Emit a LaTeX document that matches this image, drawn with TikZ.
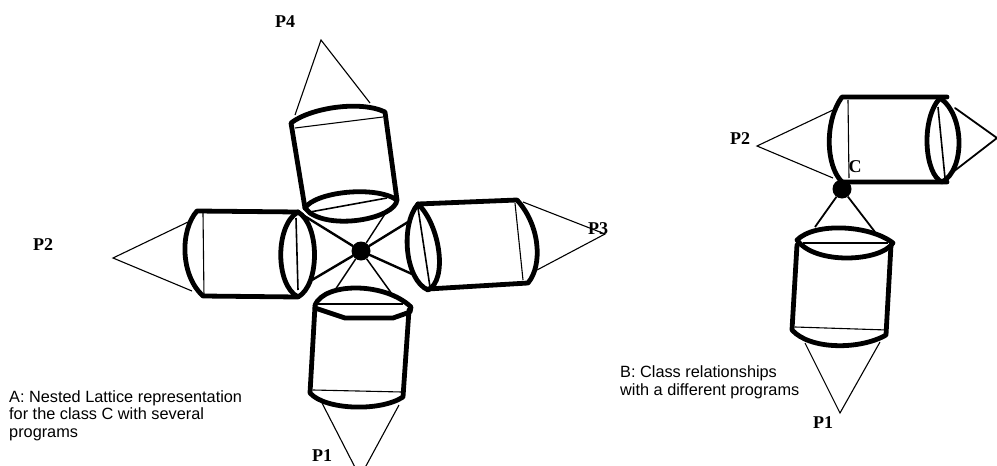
\documentclass[tikz,border=0pt]{standalone}
\usepackage{fontspec}
\setmainfont{Liberation Serif}
\newfontfamily\capfont{Liberation Sans}
\tikzset{
  thk/.style={line width=4.8pt,line cap=round,line join=round},
  med/.style={line width=2.4pt,line cap=round},
  thn/.style={line width=1.1pt},
  plabel/.style={font=\bfseries\fontsize{18}{20}\selectfont,inner sep=0pt},
  captext/.style={font=\capfont\fontsize{16.3}{17.5}\selectfont,align=left,anchor=north west,inner sep=0pt},
  captextb/.style={captext,font=\capfont\fontsize{16.3}{18.5}\selectfont},
  hub/.style={circle,fill=black,minimum size=19pt,inner sep=0pt}
}
\begin{document}
\begin{tikzpicture}[x=1pt,y=-1pt]
\useasboundingbox (0,0) rectangle (997,466);
\clip (0,0) rectangle (997,466);
% hubs
\node[hub] (ca) at (361,251) {};
\node[hub] (cb) at (842,189) {};
% coordinates: left figure
\coordinate (a4) at (321,40);
\coordinate (a4l) at (295,115);
\coordinate (a4r) at (370,103);
\coordinate (a2) at (113,258);
\coordinate (a2t) at (188,222);
\coordinate (a2b) at (192,291);
\coordinate (a3) at (605,234);
\coordinate (a3t) at (523,202);
\coordinate (a3b) at (537,270);
\coordinate (a1) at (360,477);
\coordinate (a1l) at (322,403);
\coordinate (a1r) at (399,405);
\coordinate (e4) at (385,214);
\coordinate (e2t) at (298,212);
\coordinate (e2b) at (312,280);
\coordinate (e3t) at (408,222);
\coordinate (e3b) at (412,274);
\coordinate (e1l) at (335,290);
\coordinate (e1r) at (392,294);
% thin cone lines
\draw[thn] (a4l) -- (a4) -- (a4r);
\draw[thn] (a2t) -- (a2) -- (a2b);
\draw[thn] (a3t) -- (a3) -- (a3b);
\draw[thn] (a1l) -- (a1) -- (a1r);
% connectors to hub A
\draw[thn,line width=1.4pt] (e4) -- (ca);
\draw[med] (e2t) -- (ca);
\draw[med] (e2b) -- (ca);
\draw[med] (e3t) -- (ca);
\draw[med] (e3b) -- (ca);
\draw[thn,line width=1.5pt] (e1l) -- (ca);
\draw[thn,line width=1.5pt] (e1r) -- (ca);
% P4 cylinder
\draw[thk] (305,208) -- (291,123) .. controls (310,108) and (360,100) .. (385,112) -- (397,200);
\draw[thk] (305,208) .. controls (315,192) and (375,185) .. (397,200) .. controls (395,218) and (335,230) .. (310,213) -- (305,208);
\draw[thn] (295,128) -- (383,117);
\draw[thn,line width=1.6pt] (310,212) -- (387,198);
% P2 cylinder
\draw[thk] (298,212) -- (197,211) .. controls (180,230) and (180,275) .. (203,296) -- (298,297);
\draw[thk] (298,212) .. controls (275,225) and (275,285) .. (298,297) .. controls (320,285) and (320,225) .. (298,212);
\draw[thn] (203,213) -- (204,297);
\draw[thn,line width=1.6pt] (296,218) -- (298,290);
% P3 cylinder
\draw[thk] (428,289) -- (528,283) .. controls (543,265) and (540,225) .. (517,200) -- (418,204);
\draw[thk] (418,204) .. controls (400,225) and (405,280) .. (428,290) .. controls (448,280) and (440,225) .. (418,204);
\draw[thn] (515,203) -- (523,280);
\draw[thn,line width=1.6pt] (418,208) -- (430,287);
% P1 cylinder
\draw[thk] (315,305) .. controls (325,282) and (385,282) .. (411,307) -- (410,312) -- (393,318) -- (345,318) -- (315,308);
\draw[thk] (315,306) -- (310,393) .. controls (325,410) and (380,412) .. (403,397) -- (409,310);
\draw[thn] (318,304) -- (403,304);
\draw[thn] (313,390) -- (402,392);
% right figure
\coordinate (b2) at (757,146);
\coordinate (b2t) at (833,110);
\coordinate (b2b) at (833,178);
\coordinate (b3) at (997,138);
\coordinate (b3t) at (955,108);
\coordinate (b3b) at (953,172);
\coordinate (b1) at (840,413);
\coordinate (b1l) at (805,343);
\coordinate (b1r) at (880,342);
\coordinate (f1l) at (815,227);
\coordinate (f1r) at (875,232);
\draw[thn] (b2t) -- (b2) -- (b2b);
\draw[med,line width=1.8pt] (b3t) -- (b3) -- (b3b);
\draw[thn] (b1l) -- (b1) -- (b1r);
\draw[thn,line width=1.8pt] (f1l) -- (cb) -- (f1r);
\draw[thk] (947,97) -- (842,97) .. controls (825,120) and (825,165) .. (842,182) -- (947,182);
\draw[thk] (940,98) .. controls (920,120) and (925,175) .. (942,182) .. controls (965,170) and (965,115) .. (940,98);
\draw[thn] (848,100) -- (849,178);
\draw[thn,line width=1.6pt] (938,107) -- (945,178);
\draw[thk] (797,240) .. controls (815,222) and (870,225) .. (893,243) .. controls (880,262) and (815,265) .. (797,240);
\draw[thk] (797,245) -- (792,330) .. controls (810,350) and (860,350) .. (886,335) -- (891,245);
\draw[thn] (803,243) -- (888,243);
\draw[thn] (795,327) -- (887,330);
% labels
\node[plabel] (p4a) at (285,22) {P4};
\node[plabel] (p2a) at (43,245) {P2};
\node[plabel] (p3a) at (598,229) {P3};
\node[plabel] (p1a) at (322,456) {P1};
\node[plabel] (p2b) at (740,139) {P2};
\node[plabel] (p1b) at (823,423) {P1};
\node[plabel] (cl) at (855,167) {C};
\node[captext] (capa) at (9,390) {A: Nested Lattice representation\\for the class C with several\\programs};
\node[captextb] (capb) at (620,365) {B: Class relationships\\with a different programs};
\end{tikzpicture}
\end{document}
